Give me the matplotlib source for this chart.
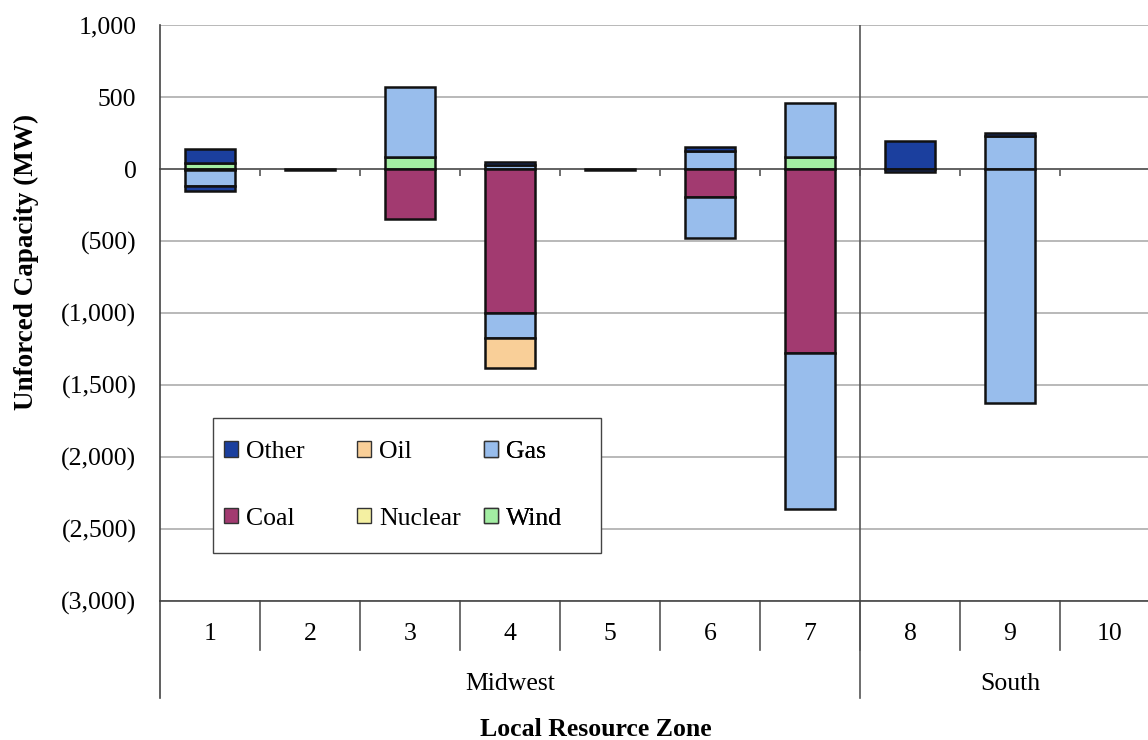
import numpy as np
import matplotlib
matplotlib.use("Agg")
import matplotlib.pyplot as plt
from matplotlib.patches import Patch, Rectangle
from matplotlib.ticker import FuncFormatter
import matplotlib.transforms as mtrans

plt.rcParams['font.family'] = ['Liberation Serif', 'DejaVu Serif']

zones = ['1', '2', '3', '4', '5', '6', '7', '8', '9', '10']
groups = ['Midwest', 'South']
group_sizes = [7, 3]

# additions (positive), stacked upward from zero
pos_wind = [40, 0, 80, 0, 0, 0, 85, 0, 0, 0]
pos_gas = [0, 0, 490, 30, 0, 125, 375, 0, 230, 0]
pos_other = [100, 0, 0, 20, 0, 25, 0, 195, 20, 0]
# retirements (negative), stacked downward from zero
neg_coal = [-10, 0, -350, -1000, 0, -195, -1280, 0, 0, 0]
neg_gas = [-110, -8, 0, -175, -8, -285, -1080, 0, -1625, 0]
neg_oil = [0, 0, 0, -210, 0, 0, 0, 0, 0, 0]
neg_other = [-30, 0, 0, 0, 0, 0, 0, -20, 0, 0]

colors = {
    'Other': '#1b3f9e',
    'Oil': '#f9cf98',
    'Gas': '#98bdec',
    'Coal': '#a23a70',
    'Nuclear': '#f4f0a2',
    'Wind': '#a3eea3',
}
legend_columns = [['Other', 'Coal'], ['Oil', 'Nuclear'], ['Gas', 'Wind']]

fig = plt.figure(figsize=(11.48, 7.40), dpi=100)
ax = fig.add_axes([160 / 1148, 1 - 601 / 740, 1000 / 1148, 576 / 740])

x = np.arange(1, len(zones) + 1)
width = 0.5


def stack(series_list, ax):
    bottom = np.zeros(len(zones))
    for name, vals in series_list:
        v = np.array(vals, dtype=float)
        m = v != 0
        ax.bar(x[m], v[m], width=width, bottom=bottom[m], color=colors[name],
               edgecolor='#111111', linewidth=1.8, zorder=3)
        bottom = bottom + v


stack([('Wind', pos_wind), ('Gas', pos_gas), ('Other', pos_other)], ax)
stack([('Coal', neg_coal), ('Gas', neg_gas), ('Oil', neg_oil), ('Other', neg_other)], ax)

ax.set_xlim(0.5, len(zones) + 0.5)
ax.set_ylim(-3000, 1000)
ax.set_yticks(np.arange(-3000, 1001, 500))


def fmt(v, pos):
    v = int(round(v))
    if v < 0:
        return '({:,})'.format(-v)
    return '{:,}'.format(v)


FS = 18.5
ax.yaxis.set_major_formatter(FuncFormatter(fmt))
ax.tick_params(axis='y', length=0, labelsize=FS, pad=17)
ax.yaxis.grid(True, color='#a6a6a6', linewidth=1.1, zorder=0)
ax.set_axisbelow(True)

for s in ['top', 'right']:
    ax.spines[s].set_visible(False)
ax.spines['left'].set_color('#444444')
ax.spines['left'].set_linewidth(1.2)
ax.spines['bottom'].set_position(('data', 0))
ax.spines['bottom'].set_color('#555555')
ax.spines['bottom'].set_linewidth(1.2)
ax.spines['bottom'].set_zorder(2)
ax.set_xticks(np.arange(1.5, len(zones), 1.0))
ax.set_xticklabels([])
ax.tick_params(axis='x', direction='out', length=5, width=1.2, color='#555555')

# bottom plot-area line at -3000
ax.axhline(-3000, color='#444444', linewidth=1.2, zorder=4, clip_on=False)

# group separator through the plot area
ax.axvline(7.5, color='#555555', linewidth=1.2, zorder=2)

# multi-level category axis below the plot
trans = mtrans.blended_transform_factory(ax.transData, ax.transAxes)
row1 = -49 / 576
row2 = -97 / 576
for i, z in enumerate(zones):
    ax.text(x[i], -33 / 576, z, transform=trans, ha='center', va='center', fontsize=FS)
for b in np.arange(1.5, len(zones), 1.0):
    ax.plot([b, b], [0, row1], transform=trans, color='#555555', lw=1.2, clip_on=False)
start = 0.5
for g, n in zip(groups, group_sizes):
    ax.text(start + n / 2, -83 / 576, g, transform=trans, ha='center', va='center', fontsize=FS)
    start += n
ax.plot([0.5, 0.5], [0, row2], transform=trans, color='#444444', lw=1.2, clip_on=False)
ax.plot([7.5, 7.5], [0, row2], transform=trans, color='#555555', lw=1.2, clip_on=False)

ax.set_ylabel('Unforced Capacity (MW)', fontsize=19.5, fontweight='bold')
ax.yaxis.set_label_coords(-121 / 1000, (601 - 262) / 576)
fig.text(596 / 1148, 1 - 729 / 740, 'Local Resource Zone', ha='center', va='center',
         fontsize=FS, fontweight='bold')

# legend: frame plus one legend per column (fixed-width columns)
frame = Rectangle((53 / 1000, 48 / 576), 388 / 1000, 135 / 576, transform=ax.transAxes,
                  facecolor='white', edgecolor='#444444', linewidth=1.0, zorder=5)
ax.add_patch(frame)
col_x = [64 / 1000, 197 / 1000, 324 / 1000]
for cx, names in zip(col_x, legend_columns):
    hs = [Patch(facecolor=colors[n], edgecolor='#333333', linewidth=1.0, label=n) for n in names]
    lg = ax.legend(handles=hs, ncol=1, loc='upper left', bbox_to_anchor=(cx, 160 / 576),
                   fontsize=FS, frameon=False, borderpad=0, borderaxespad=0,
                   handlelength=0.55, handleheight=0.55, handletextpad=0.3,
                   labelspacing=1.74)
    lg.set_zorder(6)
    ax.add_artist(lg)

fig.savefig('out.png', dpi=100)
